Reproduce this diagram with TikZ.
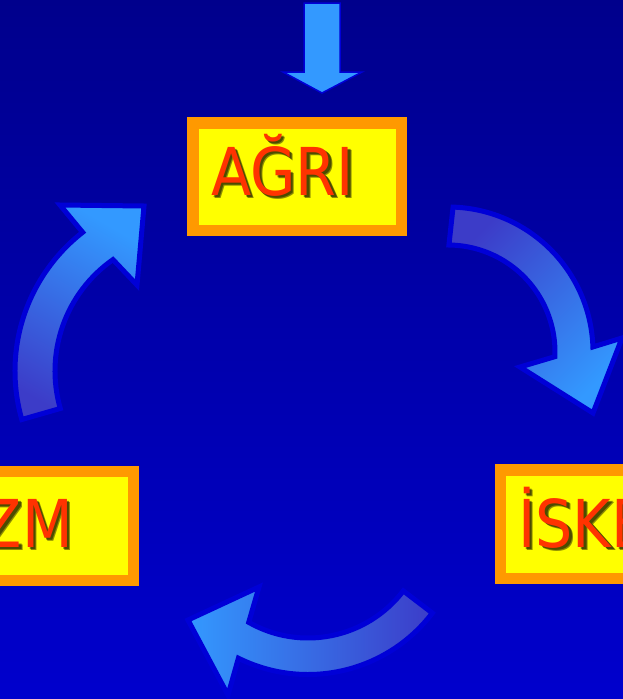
\documentclass[tikz,border=0pt]{standalone}
\usepackage{fontspec}
\newfontfamily\boxfont[FakeStretch=0.89]{DejaVu Sans}
\usetikzlibrary{calc}
\definecolor{bgtop}{RGB}{0,0,140}
\definecolor{bgbot}{RGB}{0,0,205}
\definecolor{arrowlight}{RGB}{51,153,255}
\definecolor{arrowdark}{RGB}{60,60,200}
\definecolor{arrowline}{RGB}{0,0,215}
\definecolor{boxorange}{RGB}{255,153,0}
\definecolor{boxyellow}{RGB}{255,255,0}
\definecolor{wordred}{RGB}{255,51,0}
\tikzset{
  wordbox/.style={draw=boxorange, fill=boxyellow, line width=11.5pt, rectangle, inner sep=0pt, outer sep=0pt},
  word/.style={font=\boxfont\fontsize{66}{70}\selectfont, text=wordred, inner sep=0pt},
  wordshadow/.style={font=\boxfont\fontsize{66}{70}\selectfont, text=black, text opacity=0.45, inner sep=0pt},
  bigarrow/.style={draw=arrowline, line width=5pt, line join=miter},
}
\begin{document}
\begin{tikzpicture}[x=1pt,y=-1pt]
\useasboundingbox (0,0) rectangle (623,699);
\clip (0,0) rectangle (623,699);
\fill[top color=bgtop,bottom color=bgbot] (0,0) rectangle (623,699);

% top arrow
\path[fill=arrowlight, draw=arrowline, line width=1.5pt, line join=miter]
  (304,3) -- (340,3) -- (340,72) -- (362,72) -- (322,93) -- (283,72) -- (304,72) -- cycle;

% boxes
\node[wordbox, minimum width=208.5pt, minimum height=107.5pt] (agri) at (297,176.5) {};
\node[wordbox, minimum width=233pt, minimum height=109pt] (spazm) at (17,526) {};
\node[wordbox, minimum width=239pt, minimum height=108.5pt] (iskemi) at (620,524) {};

% words (soft shadow, then text)
\node[wordshadow, anchor=base west] (agriS) at (213.5,197.5) {AĞRI};
\node[wordshadow, anchor=base west] (agriS2) at (214.5,198.5) {AĞRI};
\node[word, anchor=base west] (agriT) at (211,195) {AĞRI};
\node[wordshadow, anchor=base east] (spazmS) at (75.5,549.5) {SPAZM};
\node[wordshadow, anchor=base east] (spazmS2) at (76.5,550.5) {SPAZM};
\node[word, anchor=base east] (spazmT) at (73,547) {SPAZM};
\node[wordshadow, anchor=base west] (iskemiS) at (520.5,549.5) {İSKEMİ};
\node[wordshadow, anchor=base west] (iskemiS2) at (521.5,550.5) {İSKEMİ};
\node[word, anchor=base west] (iskemiT) at (518,547) {İSKEMİ};

% right curved arrow
\coordinate (cR) at (448,352);
\path[bigarrow, top color=arrowdark, bottom color=arrowlight, shading angle=45]
  ($(cR)+(-88:145)$) arc[start angle=-88, end angle=-2, radius=145]
  -- (622,338) -- (593,413) -- (520,367)
  -- ($(cR)+(2.5:107)$) arc[start angle=2.5, end angle=-89.5, radius=107] -- cycle;

% left curved arrow
\coordinate (cL) at (191,371);
\path[bigarrow, top color=arrowdark, bottom color=arrowlight, shading angle=150]
  ($(cL)+(164:176)$) arc[start angle=164, end angle=232, radius=176]
  -- (60,205) -- (144,206) -- (137,285)
  -- ($(cL)+(235:136)$) arc[start angle=235, end angle=164, radius=136] -- cycle;

% bottom curved arrow
\coordinate (cB) at (308,518);
\path[bigarrow, top color=arrowdark, bottom color=arrowlight, shading angle=-90]
  ($(cB)+(37.4:156.5)$) arc[start angle=37.4, end angle=116.4, radius=156.5]
  -- (228,695) -- (188,620) -- (259,587)
  -- ($(cB)+(119.6:120)$) arc[start angle=119.6, end angle=37.4, radius=120] -- cycle;
\end{tikzpicture}
\end{document}
